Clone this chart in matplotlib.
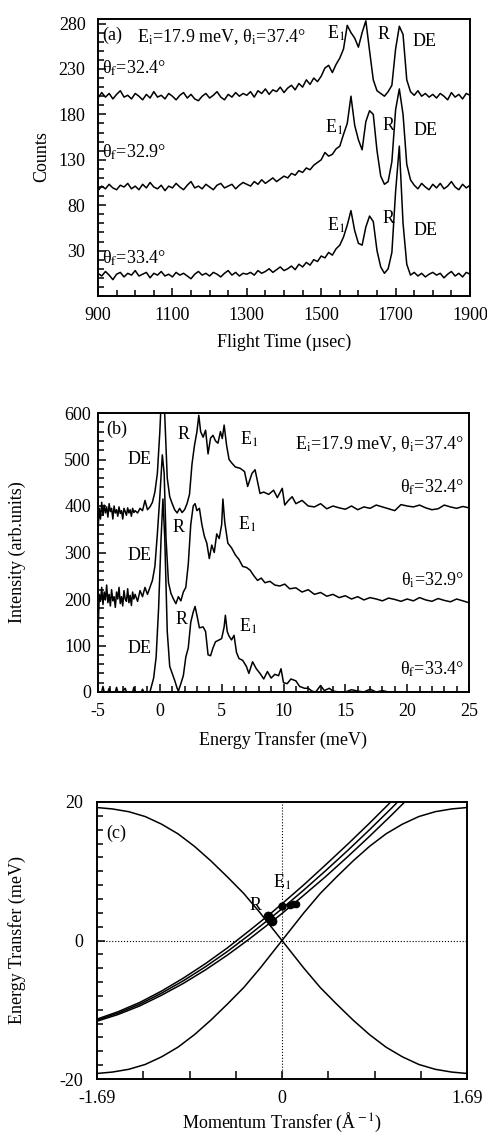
import matplotlib
matplotlib.use('Agg')
import matplotlib.pyplot as plt
from matplotlib.ticker import MultipleLocator, FixedLocator
import numpy as np

plt.rcParams['font.family'] = ['Liberation Serif', 'DejaVu Serif']
plt.rcParams['mathtext.fontset'] = 'stix'
plt.rcParams['font.size'] = 13
plt.rcParams['axes.unicode_minus'] = False

##################################################
# (a) time-of-flight spectra
##################################################
tof = np.arange(900, 1901, 10)
counts_324 = [198, 204, 199, 203, 197, 202, 206, 199, 201, 197, 203, 200, 196, 202, 198, 205, 199, 201, 197, 203,
              200, 196, 201, 204, 198, 202, 197, 195, 200, 203, 198, 201, 205, 199, 196, 202, 199, 204, 200, 203, 201,
              205, 199, 206, 203, 208, 202, 207, 205, 210, 204,
              209, 212, 207, 214, 210, 218, 213, 220, 216, 222,
              231, 234, 226, 235, 242, 252, 278, 270, 264, 254,
              270, 283, 250, 218, 206, 203, 200, 205, 212, 252,
              277, 268, 218, 205, 201, 206, 200, 203, 199, 202,
              198, 203, 200, 196, 204, 199, 202, 197, 203, 201]
counts_329 = [96, 101, 98, 103, 99, 97, 102, 100, 104, 98, 101, 97, 103, 99, 105, 100, 98, 102, 96, 101,
              99, 104, 100, 97, 102, 106, 99, 101, 98, 103, 100, 97, 102, 104, 99, 101, 103, 98, 102, 105, 103,
              101, 106, 103, 108, 104, 107, 110, 106, 109, 112,
              110, 115, 113, 118, 116, 121, 119, 124, 127, 130,
              138, 134, 136, 142, 145, 158, 170, 200, 168, 152,
              141, 172, 184, 180, 140, 112, 103, 106, 128, 185,
              208, 180, 125, 108, 102, 98, 104, 100, 97, 103,
              99, 104, 98, 101, 106, 100, 97, 103, 99, 102]
counts_334 = [5, 2, 7, 3, -2, 4, 6, 1, 5, 3, 8, 2, 4, 6, 0, 5, 3, 7, 2, 4,
              1, 6, 3, 5, 2, -1, 4, 7, 3, 5, 2, 6, 4, 1, 5, 8, 3, 6, 2, 5, 4,
              6, 3, 8, 5, 7, 10, 6, 9, 12, 8,
              10, 13, 9, 15, 12, 17, 14, 20, 18, 24,
              22, 28, 25, 32, 36, 45, 58, 74, 52, 38,
              36, 56, 68, 62, 30, 12, 5, 10, 28, 95,
              145, 60, 15, 3, 6, 2, 5, 1, 4, 6,
              3, 5, 0, 4, 7, 2, 5, 1, 6, 4]

##################################################
# (b) energy transfer spectra
##################################################
e_324 = [-5.0, -4.9, -4.8, -4.7, -4.6, -4.5, -4.4, -4.3, -4.2, -4.1, -4.0, -3.9, -3.8, -3.7, -3.6, -3.5, -3.4,
         -3.3, -3.2, -3.1, -3.0, -2.9, -2.8, -2.7, -2.6, -2.5, -2.4, -2.3, -2.2, -2.1, -2.0, -1.8, -1.6, -1.4,
         -1.2, -1.0, -0.8, -0.6, -0.4, -0.2, 0.0, 0.15, 0.3, 0.45, 0.6, 0.8, 1.0, 1.2, 1.4, 1.6, 1.8, 2.0, 2.2,
         2.4, 2.6, 2.8, 3.0, 3.15, 3.3, 3.5, 3.7, 3.9, 4.1, 4.3, 4.5, 4.7, 4.9, 5.05, 5.2, 5.4, 5.6, 5.8, 6.1,
         6.5, 6.85, 7.1, 7.45, 7.7, 8.1, 8.4, 8.8, 9.2, 9.5, 9.9, 10.1, 10.4, 10.7, 11.0, 11.5, 12.0, 12.5,
         13.0, 13.5, 14.0, 14.5, 15.0, 15.5, 16.0, 16.5, 17.0, 17.5, 18.0, 18.5, 19.0, 19.5, 20.0, 20.5, 21.0,
         21.5, 22.0, 22.5, 23.0, 23.5, 24.0, 24.5, 25.0]
i_324 = [345, 395, 372, 408, 380, 402, 385, 398, 376, 405, 388, 395, 372, 400, 385, 392, 378,
         398, 384, 390, 372, 395, 388, 380, 396, 385, 392, 378, 395, 386, 390, 385, 395, 390,
         412, 392, 398, 408, 430, 470, 560, 650, 660, 560, 460, 420, 405, 392, 385, 395, 386, 392, 405,
         425, 490, 530, 560, 595, 560, 548, 563, 512, 546, 552, 540, 535, 560, 545, 574, 530, 500, 493, 484,
         481, 474, 442, 470, 478, 427, 430, 425, 434, 418, 438, 402, 412, 420, 405, 412, 400, 398,
         405, 394, 400, 396, 393, 400, 392, 398, 395, 402, 398, 394, 390, 403, 400, 398, 402,
         396, 392, 394, 402, 398, 395, 399, 396]

e_329 = [-5.0, -4.9, -4.8, -4.7, -4.6, -4.5, -4.4, -4.3, -4.2, -4.1, -4.0, -3.9, -3.8, -3.7, -3.6, -3.5, -3.4,
         -3.3, -3.2, -3.1, -3.0, -2.9, -2.8, -2.7, -2.6, -2.5, -2.4, -2.3, -2.2, -2.1, -2.0, -1.8, -1.6, -1.4,
         -1.2, -1.0, -0.8, -0.6, -0.4, -0.2, 0.0, 0.2, 0.35, 0.5, 0.7, 0.9, 1.1, 1.3, 1.5, 1.7, 1.9, 2.1, 2.3,
         2.5, 2.7, 2.85, 3.0, 3.2, 3.4, 3.6, 3.8, 4.0, 4.2, 4.4, 4.6, 4.8, 5.0, 5.1, 5.25, 5.5, 5.8, 6.1, 6.4,
         6.7, 7.0, 7.3, 7.6, 7.9, 8.2, 8.5, 8.9, 9.3, 9.7, 10.1, 10.5, 11.0, 11.5, 12.0, 12.5, 13.0, 13.5,
         14.0, 14.5, 15.0, 15.5, 16.0, 16.5, 17.0, 17.5, 18.0, 18.5, 19.0, 19.5, 20.0, 20.5, 21.0, 21.5, 22.0,
         22.5, 23.0, 23.5, 24.0, 24.5, 25.0]
i_329 = [120, 210, 195, 225, 188, 215, 198, 230, 192, 210, 185, 220, 196, 205, 182, 215, 200,
         225, 190, 205, 185, 218, 200, 195, 222, 192, 208, 186, 215, 200, 210, 195, 218, 205,
         225, 210, 225, 240, 270, 340, 420, 510, 470, 330, 235, 212, 200, 190, 205, 196, 215, 225, 275,
         360, 400, 405, 390, 395, 360, 335, 320, 287, 316, 300, 340, 330, 360, 415, 365, 320, 310, 295, 285,
         270, 268, 262, 250, 240, 245, 235, 238, 230, 228, 232, 222, 224, 215, 220, 210, 214, 206,
         210, 203, 207, 200, 205, 198, 203, 200, 196, 202, 199, 195, 200, 196, 203, 198, 195,
         201, 197, 194, 200, 196, 192]

e_334 = [-5.0, -4.7, -4.6, -4.5, -4.2, -4.1, -4.0, -3.6, -3.5, -3.4, -3.0, -2.9, -2.8, -2.7, -2.2, -2.1, -2.0,
         -1.5, -1.4, -1.3, -0.8, -0.5, -0.3, -0.1, 0.1, 0.25, 0.4, 0.6, 0.8, 1.0, 1.2, 1.4, 1.5, 1.7, 1.9, 2.1,
         2.3, 2.5, 2.7, 2.85, 3.0, 3.2, 3.5, 3.7, 3.9, 4.1, 4.3, 4.5, 4.8, 5.0, 5.2, 5.3, 5.45, 5.6, 5.8, 6.0,
         6.2, 6.4, 6.7, 7.0, 7.2, 7.5, 7.8, 8.1, 8.4, 8.7, 9.0, 9.3, 9.6, 9.8, 10.0, 10.3, 10.6, 11.0, 11.3,
         11.7, 12.0, 12.3, 12.6, 13.0, 13.3, 13.7, 14.0, 14.5, 15.0, 15.5, 16.0, 16.5, 17.0, 17.5, 18.0, 18.5,
         25.0]
i_334 = [0, 0, 12, 0, 0, 8, 0, 0, 10, 0, 0, 5, 8, 0, 0, 10, 0,
         0, 6, 0, 0, 30, 75, 180, 330, 415, 330, 130, 55, 40, 25, 8, 2, 18, 35, 75,
         95, 150, 172, 184, 165, 138, 140, 130, 80, 78, 95, 108, 112, 115, 140, 165, 130, 120, 112, 122,
         85, 72, 68, 55, 40, 65, 50, 40, 28, 44, 30, 38, 35, 50, 20, 18, 28, 24, 12,
         8, 8, 2, 0, 14, 3, 8, 2, 0, 0, 5, 2, 0, 6, 0, 3, 0,
         0]

##################################################
# (c) dispersion and scan curves
##################################################
q_disp = [-1.69, -1.55, -1.40, -1.25, -1.10, -0.95, -0.80, -0.65, -0.50, -0.35, -0.20, -0.10, 0.0,
          0.10, 0.20, 0.35, 0.50, 0.65, 0.80, 0.95, 1.10, 1.25, 1.40, 1.55, 1.69]
e_disp_down = [19.2, 19.0, 18.6, 17.9, 16.8, 15.4, 13.6, 11.5, 9.2, 6.8, 4.0, 2.0, 0.0,
               -2.0, -4.0, -6.8, -9.2, -11.5, -13.6, -15.4, -16.8, -17.9, -18.6, -19.0, -19.2]
e_disp_up = [-19.2, -19.0, -18.6, -17.9, -16.8, -15.4, -13.6, -11.5, -9.2, -6.8, -4.0, -2.0, 0.0,
             2.0, 4.0, 6.8, 9.2, 11.5, 13.6, 15.4, 16.8, 17.9, 18.6, 19.0, 19.2]

q_scan = [-1.69, -1.50, -1.30, -1.10, -0.90, -0.70, -0.50, -0.30, -0.10, 0.0, 0.20, 0.40, 0.60, 0.80, 1.00, 1.20]
e_scan_324 = [-11.35, -10.3, -8.95, -7.3, -5.42, -3.35, -1.08, 1.4, 3.95, 5.3, 8.05, 10.95, 13.9, 16.95, 20.1, 23.35]
e_scan_329 = [-11.5, -10.5, -9.2, -7.6, -5.8, -3.8, -1.6, 0.8, 3.3, 4.6, 7.3, 10.1, 13.0, 16.0, 19.1, 22.3]
e_scan_334 = [-11.65, -10.7, -9.45, -7.9, -6.18, -4.25, -2.12, 0.2, 2.65, 3.9, 6.55, 9.25, 12.1, 15.05, 18.1, 21.25]

q_R = [-0.13, -0.11, -0.09]
e_R = [3.55, 3.15, 2.8]
q_E1 = [0.0, 0.07, 0.10, 0.13]
e_E1 = [4.95, 5.1, 5.2, 5.25]

##################################################
# figure
##################################################
W, H = 487, 1132
fig = plt.figure(figsize=(W / 100, H / 100), dpi=100)


def box(l, t, r, b):
    return [l / W, 1 - b / H, (r - l) / W, (b - t) / H]


def style(ax, ypad):
    for s in ax.spines.values():
        s.set_linewidth(1.4)
    ax.tick_params(which='both', direction='in', top=False, right=False, width=1.1)
    ax.tick_params(which='major', length=6)
    ax.tick_params(which='minor', length=4)
    ax.tick_params(axis='x', which='major', pad=8)
    ax.tick_params(axis='y', which='major', pad=ypad)


lw = 1.1
TH = 'θ'

# ---- (a)
axa = fig.add_axes(box(98, 19, 470, 296))
for c in (counts_324, counts_329, counts_334):
    axa.plot(tof, c, color='black', lw=lw)
axa.set_xlim(900, 1900)
axa.set_ylim(-20, 285)
axa.xaxis.set_major_locator(FixedLocator([900, 1100, 1300, 1500, 1700, 1900]))
axa.xaxis.set_minor_locator(MultipleLocator(50))
axa.yaxis.set_major_locator(FixedLocator([30, 80, 130, 180, 230, 280]))
axa.yaxis.set_minor_locator(MultipleLocator(10))
style(axa, 9)
axa.text(912, 262, '(a)')
axa.text(1005, 260, r'E$_{\rm i}$=17.9 meV, ' + TH + r'$_{\rm i}$=37.4°')
axa.text(912, 225, TH + r'$_{\rm f}$=32.4°')
axa.text(912, 132, TH + r'$_{\rm f}$=32.9°')
axa.text(912, 16, TH + r'$_{\rm f}$=33.4°')
axa.text(1515, 263, r'E$_1$')
axa.text(1652, 263, 'R')
axa.text(1745, 255, 'DE')
axa.text(1510, 160, r'E$_1$')
axa.text(1665, 163, 'R')
axa.text(1748, 157, 'DE')
axa.text(1515, 52, r'E$_1$')
axa.text(1665, 60, 'R')
axa.text(1748, 47, 'DE')
fig.text(42 / W, 1 - 157 / H, 'Counts', rotation=90, ha='center', va='center')
fig.text(284 / W, 1 - 342 / H, 'Flight Time (\u00b5sec)', ha='center', va='center')

# ---- (b)
axb = fig.add_axes(box(98, 413, 469, 692))
for e, i in ((e_324, i_324), (e_329, i_329), (e_334, i_334)):
    axb.plot(e, i, color='black', lw=lw)
axb.set_xlim(-5, 25)
axb.set_ylim(0, 600)
axb.xaxis.set_major_locator(MultipleLocator(5))
axb.xaxis.set_minor_locator(MultipleLocator(1))
axb.yaxis.set_major_locator(MultipleLocator(100))
axb.yaxis.set_minor_locator(MultipleLocator(20))
style(axb, 5)
axb.text(-4.3, 555, '(b)')
axb.text(-2.6, 490, 'DE')
axb.text(1.4, 545, 'R')
axb.text(6.5, 532, r'E$_1$')
axb.text(24.6, 522, r'E$_{\rm i}$=17.9 meV, ' + TH + r'$_{\rm i}$=37.4°', ha='right')
axb.text(24.6, 428, TH + r'$_{\rm f}$=32.4°', ha='right')
axb.text(-2.6, 283, 'DE')
axb.text(1.0, 345, 'R')
axb.text(6.3, 350, r'E$_1$')
axb.text(24.6, 228, TH + r'$_{\rm i}$=32.9°', ha='right')
axb.text(-2.6, 83, 'DE')
axb.text(1.3, 147, 'R')
axb.text(6.4, 130, r'E$_1$')
axb.text(24.6, 38, TH + r'$_{\rm f}$=33.4°', ha='right')
fig.text(17 / W, 1 - 552 / H, 'Intensity (arb.units)', rotation=90, ha='center', va='center')
fig.text(283 / W, 1 - 740 / H, 'Energy Transfer (meV)', ha='center', va='center')

# ---- (c)
axc = fig.add_axes(box(97, 802, 467, 1079))
axc.plot(q_disp, e_disp_down, color='black', lw=lw)
axc.plot(q_disp, e_disp_up, color='black', lw=lw)
for e in (e_scan_324, e_scan_329, e_scan_334):
    axc.plot(q_scan, e, color='black', lw=lw)
axc.axhline(0, color='black', lw=0.8, ls=':')
axc.axvline(0, color='black', lw=0.8, ls=':')
axc.plot(q_R, e_R, 'o', color='black', ms=6)
axc.plot(q_E1[1:], e_E1[1:], '-o', color='black', lw=2.5, ms=4.5)
axc.plot(q_E1[:1], e_E1[:1], 'o', color='black', ms=5)
axc.set_xlim(-1.69, 1.69)
axc.set_ylim(-20, 20)
axc.xaxis.set_major_locator(FixedLocator([-1.69, 0, 1.69]))
axc.xaxis.set_minor_locator(FixedLocator([-1.2675, -0.845, -0.4225, 0.4225, 0.845, 1.2675]))
axc.set_xticklabels(['-1.69', '0', '1.69'])
axc.yaxis.set_major_locator(FixedLocator([-20, 0, 20]))
axc.yaxis.set_minor_locator(MultipleLocator(2))
style(axc, 10)
axc.tick_params(axis='x', which='minor', length=6)
axc.text(-1.61, 14.8, '(c)')
axc.text(-0.3, 4.4, 'R')
axc.text(-0.08, 7.6, r'E$_1$')
fig.text(17 / W, 1 - 940 / H, 'Energy Transfer (meV)', rotation=90, ha='center', va='center')
fig.text(282 / W, 1 - 1122 / H, r'Momentum Transfer (Å$^{\rm -1}$)', ha='center', va='center')

plt.savefig('out.png', dpi=100)
